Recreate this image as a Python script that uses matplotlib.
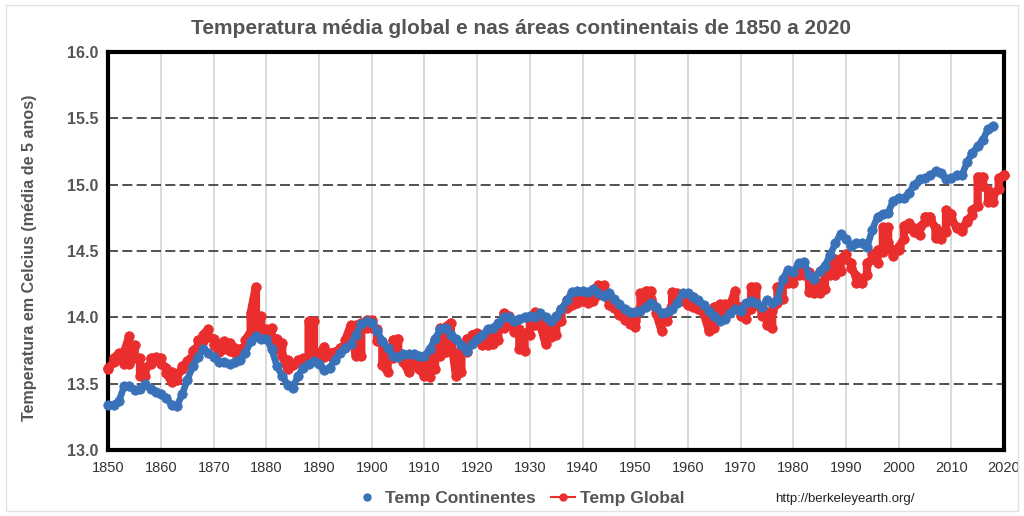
import matplotlib
matplotlib.use("Agg")
import matplotlib.pyplot as plt
from matplotlib.lines import Line2D
from matplotlib.patches import Rectangle
import numpy as np

plt.rcParams['font.family'] = ['Liberation Sans', 'DejaVu Sans']

title = "Temperatura média global e nas áreas continentais de 1850 a 2020"
ylabel = "Temperatura em Celcius (média de 5 anos)"
label_cont = "Temp Continentes"
label_glob = "Temp Global"
source = "http://berkeleyearth.org/"

x_ticks = list(range(1850, 2021, 10))
y_ticks = [13.0, 13.5, 14.0, 14.5, 15.0, 15.5, 16.0]

cont_years = list(range(1850, 2019))
cont_temp = [
    13.34, 13.34, 13.37, 13.48, 13.48, 13.45, 13.46, 13.50, 13.46, 13.44,  # 1850s
    13.42, 13.39, 13.34, 13.33, 13.42, 13.53, 13.63, 13.70, 13.76, 13.73,  # 1860s
    13.70, 13.66, 13.66, 13.65, 13.66, 13.68, 13.73, 13.82, 13.86, 13.84,  # 1870s
    13.84, 13.76, 13.63, 13.56, 13.49, 13.47, 13.56, 13.62, 13.65, 13.67,  # 1880s
    13.65, 13.60, 13.62, 13.68, 13.73, 13.77, 13.80, 13.87, 13.95, 13.97,  # 1890s
    13.96, 13.90, 13.82, 13.77, 13.71, 13.70, 13.72, 13.72, 13.72, 13.71,  # 1900s
    13.71, 13.76, 13.84, 13.91, 13.92, 13.87, 13.84, 13.79, 13.75, 13.80,  # 1910s
    13.84, 13.87, 13.91, 13.92, 13.96, 14.00, 14.00, 13.97, 13.99, 14.00,  # 1920s
    14.01, 14.00, 14.03, 14.00, 13.97, 14.01, 14.06, 14.13, 14.19, 14.20,  # 1930s
    14.20, 14.19, 14.21, 14.18, 14.16, 14.18, 14.14, 14.10, 14.06, 14.04,  # 1940s
    14.04, 14.05, 14.08, 14.11, 14.08, 14.03, 14.04, 14.06, 14.11, 14.18,  # 1950s
    14.18, 14.15, 14.13, 14.09, 14.05, 14.01, 13.97, 13.99, 14.03, 14.06,  # 1960s
    14.05, 14.11, 14.12, 14.11, 14.08, 14.13, 14.11, 14.13, 14.29, 14.36,  # 1970s
    14.34, 14.41, 14.42, 14.32, 14.29, 14.35, 14.39, 14.47, 14.56, 14.63,  # 1980s
    14.59, 14.54, 14.56, 14.56, 14.53, 14.66, 14.76, 14.78, 14.79, 14.88,  # 1990s
    14.90, 14.90, 14.94, 15.00, 15.04, 15.05, 15.07, 15.10, 15.09, 15.04,  # 2000s
    15.05, 15.07, 15.07, 15.17, 15.24, 15.29, 15.34, 15.42, 15.44,         # 2010s
]

glob_years = list(range(1850, 2021))
glob_low = [
    13.61, 13.66, 13.70, 13.65, 13.65, 13.69, 13.56, 13.56, 13.65, 13.68,
    13.65, 13.58, 13.51, 13.53, 13.61, 13.65, 13.71, 13.78, 13.82, 13.85,
    13.79, 13.74, 13.76, 13.75, 13.73, 13.71, 13.78, 13.89, 13.89, 13.87,
    13.85, 13.82, 13.76, 13.71, 13.61, 13.64, 13.66, 13.68, 13.69, 13.74,
    13.70, 13.70, 13.71, 13.74, 13.75, 13.79, 13.89, 13.71, 13.71, 13.92,
    13.92, 13.82, 13.64, 13.59, 13.69, 13.74, 13.66, 13.59, 13.64, 13.61,
    13.56, 13.55, 13.61, 13.71, 13.74, 13.84, 13.56, 13.59, 13.74, 13.82,
    13.84, 13.79, 13.79, 13.80, 13.83, 13.92, 13.94, 13.89, 13.76, 13.75,
    13.87, 13.94, 13.94, 13.80, 13.85, 13.87, 13.97, 14.07, 14.09, 14.11,
    14.12, 14.11, 14.12, 14.17, 14.19, 14.09, 14.07, 14.02, 13.98, 13.95,
    13.93, 14.07, 14.09, 14.14, 14.03, 13.90, 13.97, 14.09, 14.13, 14.12,
    14.09, 14.08, 14.06, 14.03, 13.90, 13.92, 14.03, 14.08, 14.06, 14.09,
    14.01, 13.99, 14.06, 14.11, 14.01, 13.94, 13.92, 14.11, 14.14, 14.26,
    14.26, 14.32, 14.32, 14.19, 14.18, 14.18, 14.21, 14.32, 14.32, 14.35,
    14.44, 14.37, 14.26, 14.26, 14.32, 14.44, 14.41, 14.49, 14.57, 14.46,
    14.51, 14.59, 14.67, 14.64, 14.62, 14.72, 14.74, 14.60, 14.59, 14.64,
    14.74, 14.67, 14.65, 14.72, 14.77, 14.84, 14.99, 14.87, 14.87, 14.97,
    15.07,
]
glob_high = [
    13.62, 13.69, 13.73, 13.74, 13.86, 13.79, 13.69, 13.62, 13.69, 13.70,
    13.69, 13.62, 13.59, 13.57, 13.63, 13.67, 13.75, 13.83, 13.87, 13.91,
    13.84, 13.79, 13.82, 13.81, 13.77, 13.76, 13.83, 14.03, 14.23, 14.01,
    13.91, 13.92, 13.84, 13.81, 13.68, 13.65, 13.68, 13.69, 13.97, 13.97,
    13.72, 13.78, 13.73, 13.74, 13.77, 13.83, 13.94, 13.94, 13.96, 13.98,
    13.98, 13.91, 13.81, 13.72, 13.83, 13.84, 13.70, 13.69, 13.68, 13.68,
    13.65, 13.73, 13.83, 13.92, 13.93, 13.96, 13.73, 13.76, 13.84, 13.87,
    13.88, 13.84, 13.87, 13.91, 13.93, 14.03, 14.01, 13.93, 13.91, 13.88,
    13.98, 14.04, 13.98, 13.94, 13.92, 13.96, 14.06, 14.13, 14.16, 14.16,
    14.17, 14.17, 14.18, 14.24, 14.24, 14.13, 14.11, 14.03, 14.01, 14.00,
    13.97, 14.18, 14.20, 14.20, 14.06, 14.00, 14.02, 14.19, 14.18, 14.17,
    14.17, 14.15, 14.08, 14.03, 13.97, 14.08, 14.10, 14.10, 14.09, 14.20,
    14.08, 14.04, 14.23, 14.23, 14.05, 14.04, 14.05, 14.23, 14.26, 14.33,
    14.31, 14.37, 14.34, 14.34, 14.26, 14.26, 14.31, 14.41, 14.44, 14.44,
    14.48, 14.41, 14.31, 14.29, 14.41, 14.48, 14.51, 14.68, 14.68, 14.51,
    14.53, 14.69, 14.71, 14.67, 14.68, 14.76, 14.76, 14.67, 14.64, 14.81,
    14.78, 14.68, 14.67, 14.73, 14.81, 15.06, 15.06, 14.96, 14.93, 15.05,
    15.07,
]

blue = "#3A72BA"
red = "#EA2E2E"
grey_txt = "#555555"

# order the within-year global values so the trace runs toward the next year
gx, gy = [], []
n = len(glob_years)
for i in range(n):
    lo, hi = glob_low[i], glob_high[i]
    nxt = (glob_low[i + 1] + glob_high[i + 1]) / 2 if i + 1 < n else hi
    pair = (lo, hi) if nxt >= (lo + hi) / 2 else (hi, lo)
    gx += [glob_years[i], glob_years[i]]
    gy += list(pair)

fig = plt.figure(figsize=(10.24, 5.16), dpi=100)
fig.patches.append(Rectangle((6 / 1024, 5 / 516), 1012 / 1024, 506 / 516,
                             transform=fig.transFigure, fill=False,
                             edgecolor="#E2E2E2", lw=1.0))

ax = fig.add_axes([108.4 / 1024, 66 / 516, 895.6 / 1024, 398 / 516])
ax.set_xlim(1850, 2020)
ax.set_ylim(13.0, 16.0)

ax.plot(gx, gy, color=red, lw=6.0, marker='o', ms=7.0, mew=0.4,
        solid_joinstyle='round', solid_capstyle='round', zorder=3, clip_on=False)
ax.plot(cont_years, cont_temp, color=blue, lw=4.8, marker='o', ms=6.9, mew=0.4,
        solid_joinstyle='round', solid_capstyle='round', zorder=4, clip_on=False)

ax.set_xticks(x_ticks)
ax.set_yticks(y_ticks)
ax.set_yticklabels([f"{v:.1f}" for v in y_ticks],
                   fontweight='bold', fontsize=11.5, color=grey_txt)
ax.set_xticklabels([str(v) for v in x_ticks], fontsize=10.5, color="#333333")
ax.tick_params(axis='both', length=0)
ax.tick_params(axis='y', pad=7)
ax.tick_params(axis='x', pad=8)

ax.xaxis.grid(True, color="#DADADA", lw=1.4, ls='-', zorder=0)
ax.yaxis.grid(True, color="#333333", lw=1.2, ls=(0, (6, 2.6)), zorder=0)
ax.set_axisbelow(True)
for s in ax.spines.values():
    s.set_linewidth(3.0)
    s.set_color("black")
    s.set_zorder(2.5)

fig.text(521 / 1024, 1 - 29 / 516, title, ha='center', va='center',
         fontsize=15, fontweight='bold', color=grey_txt)
fig.text(30 / 1024, 1 - 258 / 516, ylabel, ha='center', va='center', rotation=90,
         fontsize=11.6, fontweight='bold', color=grey_txt)

handles = [
    Line2D([], [], color=blue, marker='o', ls='none', ms=5),
    Line2D([], [], color=red, marker='o', lw=1.5, ms=5),
]
leg = fig.legend(handles, [label_cont, label_glob], loc='center',
                 bbox_to_anchor=(520 / 1024, 1 - 498 / 516), ncol=2, frameon=False,
                 handlelength=1.4, columnspacing=0.9, handletextpad=0.3,
                 prop={'size': 12.5, 'weight': 'bold'})
for t in leg.get_texts():
    t.set_color(grey_txt)

fig.text(775 / 1024, 1 - 499 / 516, source, ha='left', va='center',
         fontsize=9.5, color="#222222")

fig.savefig("out.png", dpi=100)
